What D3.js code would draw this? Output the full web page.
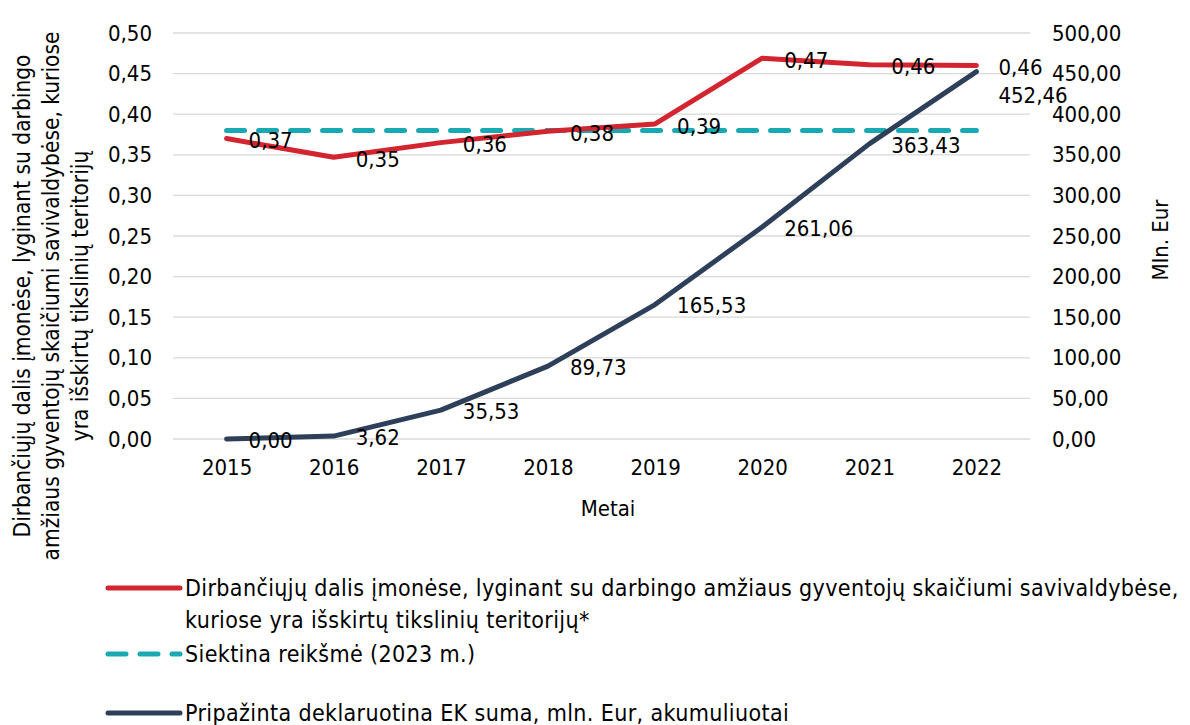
<!DOCTYPE html>
<html>
<head>
<meta charset="utf-8">
<script src="https://cdn.jsdelivr.net/npm/d3@7"></script>
<style>
  body { margin: 0; background: #fff; }
  text { font-family: "DejaVu Sans Condensed", "DejaVu Sans", sans-serif; fill: #000; }
</style>
</head>
<body>
<svg id="chart"></svg>
<script>
let metai = ["2015", "2016", "2017", "2018", "2019", "2020", "2021", "2022"];
let dalis = [0.37, 0.347, 0.365, 0.379, 0.388, 0.469, 0.461, 0.46];
let dalisZymes = ["0,37", "0,35", "0,36", "0,38", "0,39", "0,47", "0,46", "0,46"];
let siektina = [0.38, 0.38, 0.38, 0.38, 0.38, 0.38, 0.38, 0.38];
let suma = [0, 3.62, 35.53, 89.73, 165.53, 261.06, 363.43, 452.46];
let kairesTikai = [0, 0.05, 0.1, 0.15, 0.2, 0.25, 0.3, 0.35, 0.4, 0.45, 0.5];
let desinesTikai = [0, 50, 100, 150, 200, 250, 300, 350, 400, 450, 500];

let plotis = 1190, aukstis = 725;
let kaire = 173, desine = 1030, virsus = 33, apacia = 439;
let sriftas = 22;

let svg = d3.select("#chart").attr("width", plotis).attr("height", aukstis);

let x = d3.scalePoint().domain(metai).range([kaire, desine]).padding(0.5);
let yK = d3.scaleLinear().domain([0, 0.5]).range([apacia, virsus]);
let yD = d3.scaleLinear().domain([0, 500]).range([apacia, virsus]);

let kablelis = d3.formatLocale({ decimal: ",", thousands: " ", grouping: [3], currency: ["", ""] });
let f2 = kablelis.format(".2f");

// tinklelis
svg.append("g").selectAll("line")
  .data(kairesTikai).enter().append("line")
  .attr("x1", kaire).attr("x2", desine)
  .attr("y1", d => yK(d)).attr("y2", d => yK(d))
  .attr("stroke", "#d9d9d9").attr("stroke-width", 1.3);

// kaire asis
let ak = svg.append("g").attr("transform", "translate(" + (kaire - 21) + ",0)")
  .call(d3.axisLeft(yK).tickValues(kairesTikai).tickFormat(f2).tickSize(0).tickPadding(0));
ak.select(".domain").remove();
ak.selectAll("text").attr("font-size", sriftas).attr("font-family", null);

// desine asis
let ad = svg.append("g").attr("transform", "translate(" + (desine + 22) + ",0)")
  .call(d3.axisRight(yD).tickValues(desinesTikai).tickFormat(f2).tickSize(0).tickPadding(0));
ad.select(".domain").remove();
ad.selectAll("text").attr("font-size", sriftas).attr("font-family", null);

// x asis
let ax = svg.append("g").attr("transform", "translate(0," + apacia + ")")
  .call(d3.axisBottom(x).tickSize(0).tickPadding(20));
ax.select(".domain").remove();
ax.selectAll("text").attr("font-size", sriftas).attr("font-family", null);

svg.append("text").attr("x", 608).attr("y", 508)
  .attr("dy", "0.35em").attr("text-anchor", "middle").attr("font-size", sriftas).text("Metai");

// asiu pavadinimai
let kairesPav = ["Dirbančiųjų dalis įmonėse, lyginant su darbingo",
  "amžiaus gyventojų skaičiumi savivaldybėse, kuriose",
  "yra išskirtų tikslinių teritorijų"];
svg.append("g").attr("transform", "translate(22,296) rotate(-90)")
  .selectAll("text").data(kairesPav).enter().append("text")
  .attr("x", 0).attr("y", (d, i) => i * 29)
  .attr("dy", "0.35em").attr("text-anchor", "middle").attr("font-size", 22.5)
  .text(d => d);

svg.append("text").attr("transform", "translate(1160,240) rotate(-90)")
  .attr("dy", "0.35em").attr("text-anchor", "middle").attr("font-size", sriftas)
  .text("Mln. Eur");

// linijos
let linijaK = d3.line().x((d, i) => x(metai[i])).y(d => yK(d));
let linijaD = d3.line().x((d, i) => x(metai[i])).y(d => yD(d));

svg.append("path").datum(siektina).attr("d", linijaK)
  .attr("fill", "none").attr("stroke", "#19a9b3").attr("stroke-width", 5)
  .attr("stroke-dasharray", "18,14").attr("stroke-linecap", "round");

svg.append("path").datum(suma).attr("d", linijaD)
  .attr("fill", "none").attr("stroke", "#2e3f5a").attr("stroke-width", 5)
  .attr("stroke-linecap", "round").attr("stroke-linejoin", "round");

svg.append("path").datum(dalis).attr("d", linijaK)
  .attr("fill", "none").attr("stroke", "#d3252f").attr("stroke-width", 5)
  .attr("stroke-linecap", "round").attr("stroke-linejoin", "round");

// zymes
svg.append("g").selectAll("text").data(dalis).enter().append("text")
  .attr("x", (d, i) => x(metai[i]) + 22).attr("y", d => yK(d) + 2)
  .attr("dy", "0.35em").attr("font-size", sriftas)
  .text((d, i) => dalisZymes[i]);

svg.append("g").selectAll("text").data(suma).enter().append("text")
  .attr("x", (d, i) => x(metai[i]) + 22)
  .attr("y", (d, i) => yD(d) + (i === suma.length - 1 ? 24 : 1))
  .attr("dy", "0.35em").attr("font-size", sriftas)
  .text(d => f2(d));

// legenda
let legenda = [
  { spalva: "#d3252f", bruks: null, y: 588, eilutes: ["Dirbančiųjų dalis įmonėse, lyginant su darbingo amžiaus gyventojų skaičiumi savivaldybėse,", "kuriose yra išskirtų tikslinių teritorijų*"] },
  { spalva: "#19a9b3", bruks: "18,14", y: 654, eilutes: ["Siektina reikšmė (2023 m.)"] },
  { spalva: "#2e3f5a", bruks: null, y: 713, eilutes: ["Pripažinta deklaruotina EK suma, mln. Eur, akumuliuotai"] }
];
let lg = svg.append("g").selectAll("g").data(legenda).enter().append("g");
lg.append("line").attr("x1", 108).attr("x2", 180)
  .attr("y1", d => d.y).attr("y2", d => d.y)
  .attr("stroke", d => d.spalva).attr("stroke-width", 5)
  .attr("stroke-linecap", "round")
  .attr("stroke-dasharray", d => d.bruks);
lg.each(function (d) {
  d3.select(this).selectAll("text").data(d.eilutes).enter().append("text")
    .attr("x", 185).attr("y", (t, i) => d.y + i * 32)
    .attr("dy", "0.35em").attr("font-size", 23).attr("letter-spacing", 0.38)
    .text(t => t);
});
</script>
</body>
</html>
